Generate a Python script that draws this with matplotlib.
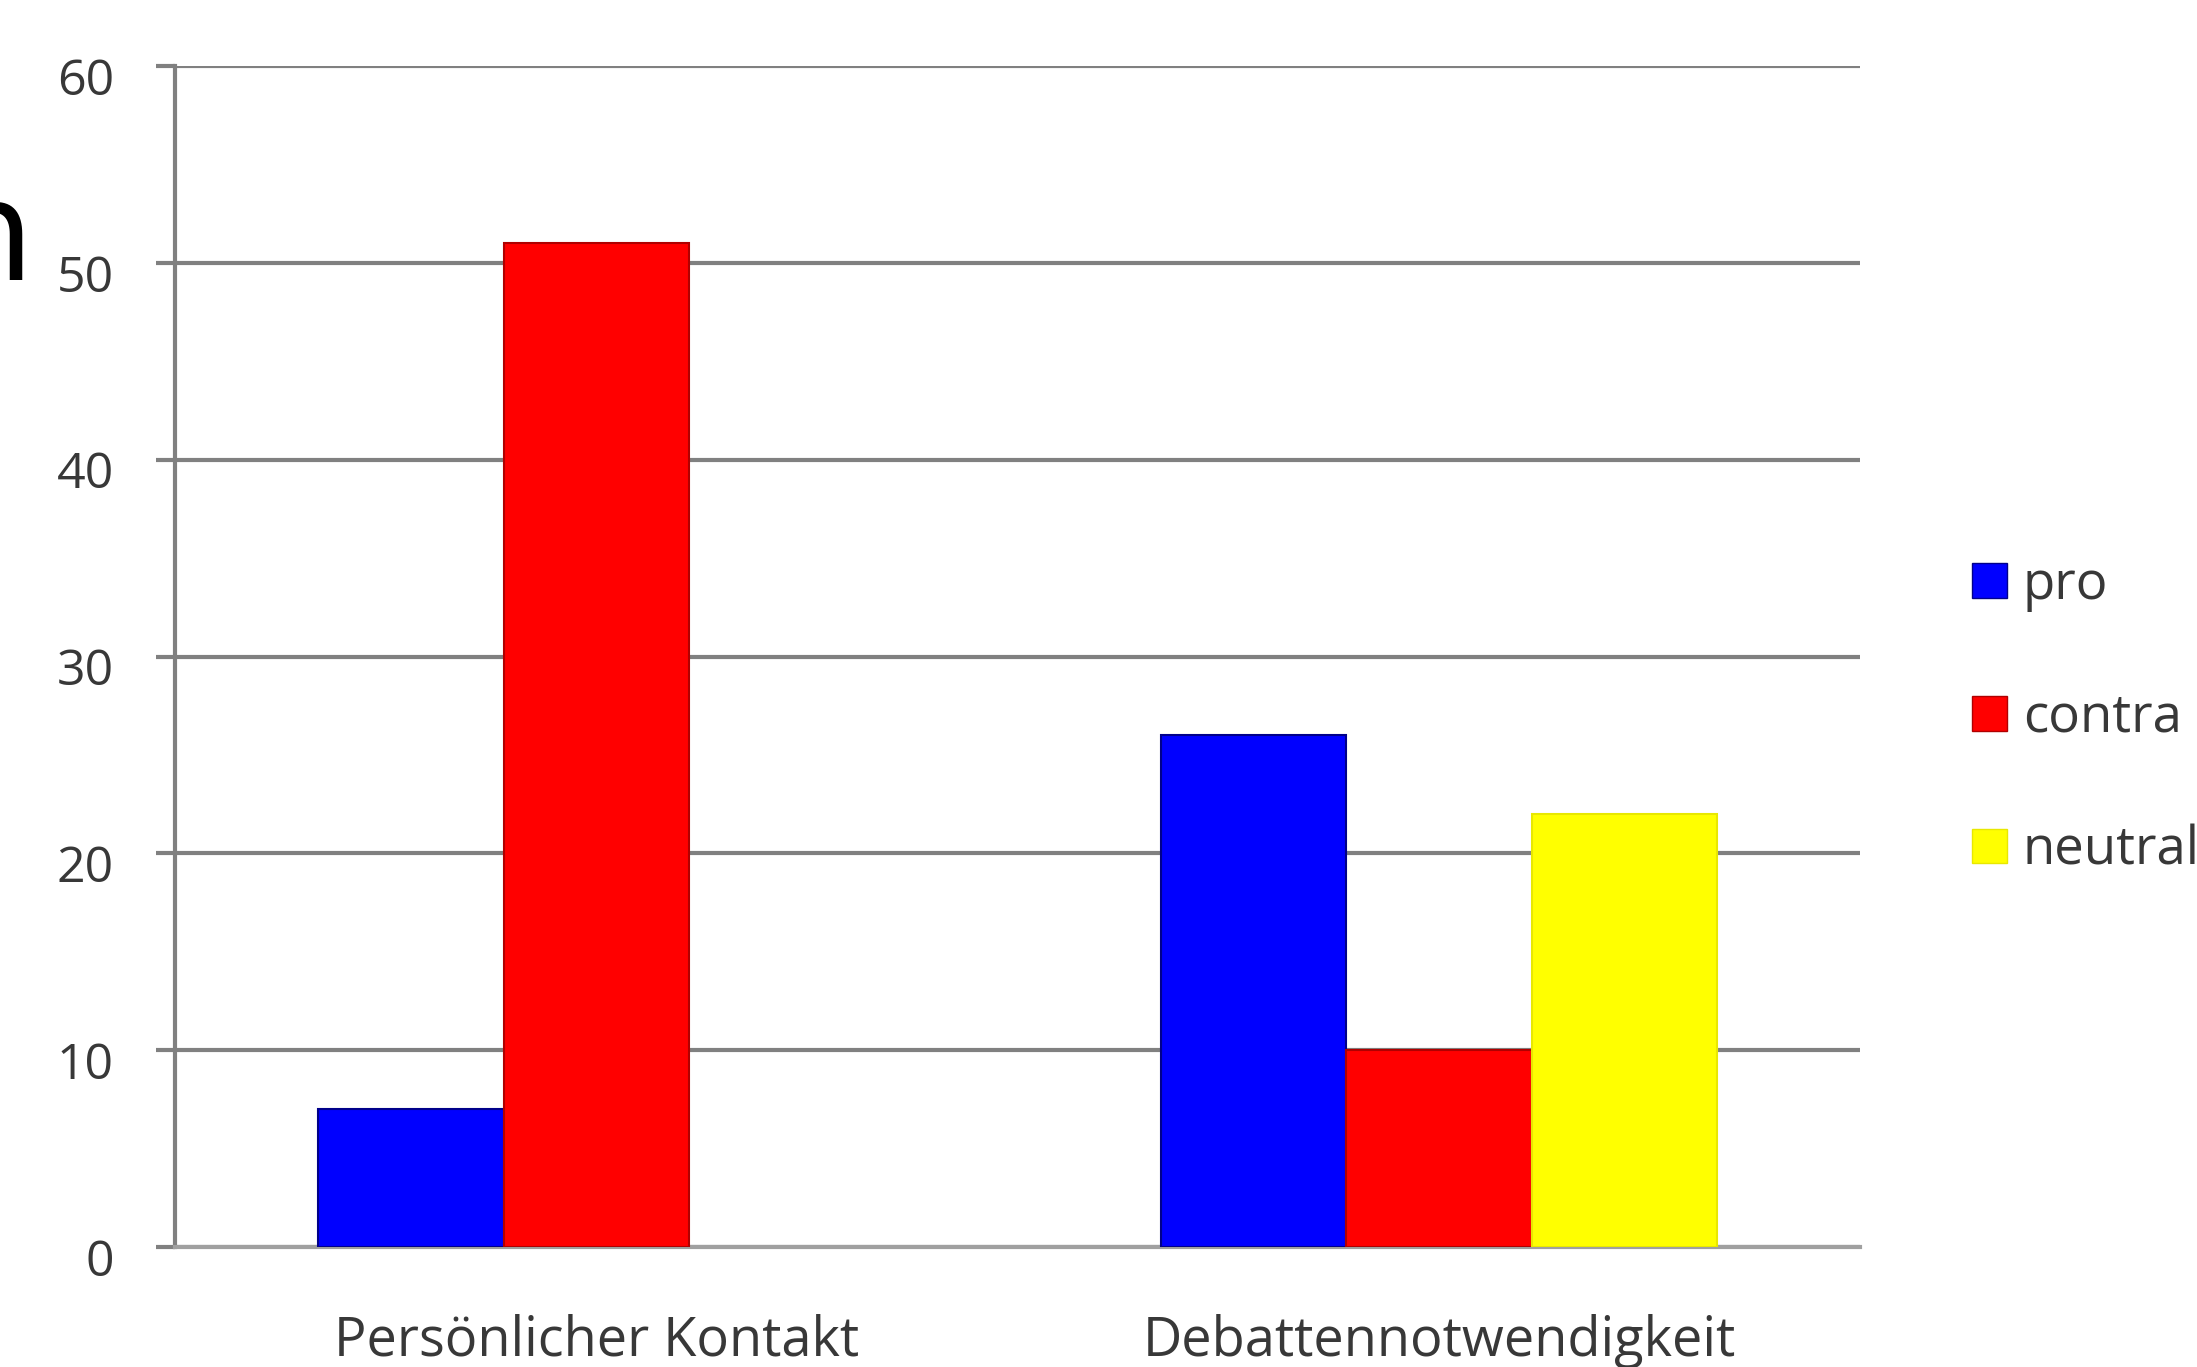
import matplotlib.pyplot as plt
import matplotlib.transforms as mtransforms
import numpy as np
from matplotlib.patches import Patch

# data
categories = ["Persönlicher Kontakt", "Debattennotwendigkeit"]
series_names = ["pro", "contra", "neutral"]
pro = [7, 26]
contra = [51, 10]
neutral = [0, 22]
colors = ["#0000ff", "#ff0000", "#ffff00"]
edge_colors = ["#00008a", "#b00000", "#e8e800"]
yticks = [0, 10, 20, 30, 40, 50, 60]

plt.rcParams['font.family'] = ['Open Sans', 'DejaVu Sans']

fig = plt.figure(figsize=(21.97, 13.67), dpi=100)
ax = fig.add_axes([0.0797, 0.0878, 0.767, 0.8639])

x = np.arange(len(categories))
width = 0.22
values = [pro, contra, neutral]
for i, vals in enumerate(values):
    vals = np.array(vals)
    keep = vals > 0  # no empty bar for a zero value
    ax.bar(x[keep] + (i - 1) * width, vals[keep], width, color=colors[i],
           edgecolor=edge_colors[i], linewidth=1.5, zorder=3)

ax.set_xlim(-0.5, 1.5)
ax.set_ylim(0, 60)
ax.set_yticks(yticks)
ax.set_xticks(x)
ax.set_xticklabels(categories)

# grey gridlines, ticks are extensions of them
ax.yaxis.grid(True, color="#808080", linewidth=3, zorder=1)
ax.tick_params(axis="y", length=14, width=3, color="#808080", pad=30,
               labelsize=36, labelcolor="#383838")
ax.tick_params(axis="x", length=0, pad=48, labelsize=39, labelcolor="#383838")

# tick labels sit a little below their gridline
shift = mtransforms.ScaledTranslation(0, -10 / 100, fig.dpi_scale_trans)
for lbl in ax.get_yticklabels():
    lbl.set_transform(lbl.get_transform() + shift)

for side in ["top", "right"]:
    ax.spines[side].set_visible(False)
ax.spines["left"].set_color("#808080")
ax.spines["left"].set_linewidth(3)
ax.spines["bottom"].set_color("#a0a0a0")
ax.spines["bottom"].set_linewidth(3)

# legend on the right, partly cut off by the figure edge
handles = [Patch(facecolor=c, edgecolor=e, linewidth=1) for c, e in zip(colors, edge_colors)]
fig.legend(handles, series_names, loc="upper left", bbox_to_anchor=(0.876, 0.626),
           frameon=False, fontsize=38, handlelength=0.66, handleheight=0.64,
           handletextpad=0.3, labelspacing=1.5, borderpad=0.4, labelcolor="#383838")

# fragment of a word cut at the left edge
fig.text(0.015, 1 - 280 / 1367, "n", fontsize=100, color="black",
         ha="right", va="baseline", family="DejaVu Sans")

plt.savefig("out.png", dpi=100)
plt.close()
